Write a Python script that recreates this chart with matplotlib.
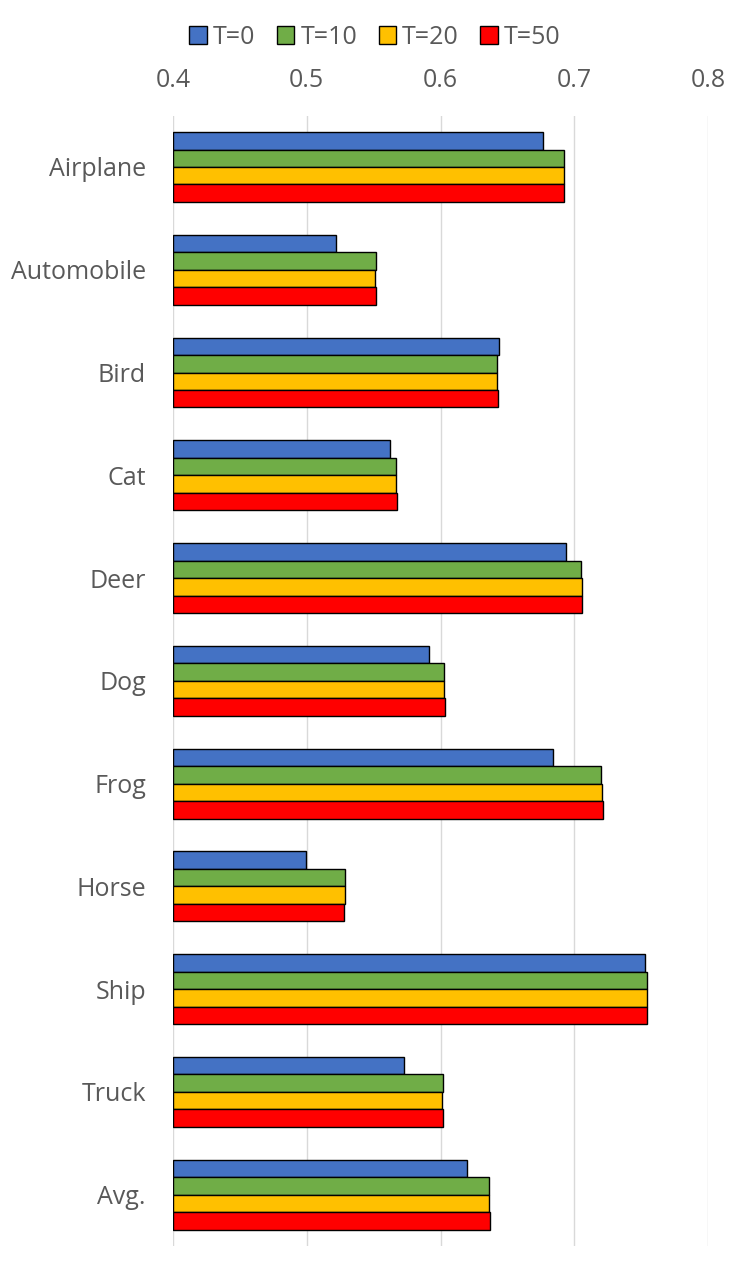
import matplotlib
matplotlib.use("Agg")
import matplotlib.pyplot as plt
import numpy as np

categories = ["Airplane", "Automobile", "Bird", "Cat", "Deer", "Dog", "Frog",
              "Horse", "Ship", "Truck", "Avg."]
series_names = ["T=0", "T=10", "T=20", "T=50"]
t0 = [0.677, 0.5215, 0.6435, 0.5623, 0.694, 0.5917, 0.684, 0.4993, 0.753, 0.573, 0.6198]
t10 = [0.692, 0.5516, 0.642, 0.5665, 0.7052, 0.6024, 0.7200, 0.5284, 0.7547, 0.6016, 0.6365]
t20 = [0.6925, 0.551, 0.642, 0.567, 0.7055, 0.6026, 0.7207, 0.5289, 0.7545, 0.6014, 0.636]
t50 = [0.692, 0.552, 0.6427, 0.5675, 0.706, 0.603, 0.7212, 0.5282, 0.7547, 0.6022, 0.6367]
colors = ["#4472C4", "#70AD47", "#FFC000", "#FF0000"]
xticks = [0.4, 0.5, 0.6, 0.7, 0.8]

plt.rcParams['font.family'] = ['Open Sans', 'DejaVu Sans']

fig = plt.figure(figsize=(7.47, 12.72), dpi=100)
ax = fig.add_axes([173/747, 1 - 1246/1272, (708-173)/747, (1246-115.6)/1272])

n = len(series_names)
h = 0.17
y = np.arange(len(categories))
base = 0.4
for i, (vals, c, name) in enumerate(zip([t0, t10, t20, t50], colors, series_names)):
    offs = (i - (n - 1) / 2) * h
    ax.barh(y + offs, np.array(vals) - base, left=base, height=h, color=c,
            edgecolor="black", linewidth=1.0, label=name, zorder=3)

ax.set_xlim(0.4, 0.8)
ax.set_ylim(len(categories) - 0.5, -0.5)
ax.set_yticks(y)
ax.set_yticklabels(categories, fontsize=18, color="#595959")
ax.set_xticks(xticks)
ax.set_xticklabels([f"{v:.1f}" for v in xticks], fontsize=18, color="#595959")
ax.xaxis.tick_top()
ax.tick_params(axis="both", length=0)
ax.tick_params(axis="x", pad=16)
ax.tick_params(axis="y", pad=19.5)
ax.grid(axis="x", color="#D9D9D9", linewidth=1, zorder=0)
for s in ax.spines.values():
    s.set_visible(False)

leg = fig.legend(loc="center", bbox_to_anchor=(375/747, 1 - 37/1272), ncol=4,
                 frameon=False, fontsize=18, handlelength=0.7, handleheight=0.7,
                 handletextpad=0.25, columnspacing=0.85, labelcolor="#595959")

fig.savefig("out.png", dpi=100)
